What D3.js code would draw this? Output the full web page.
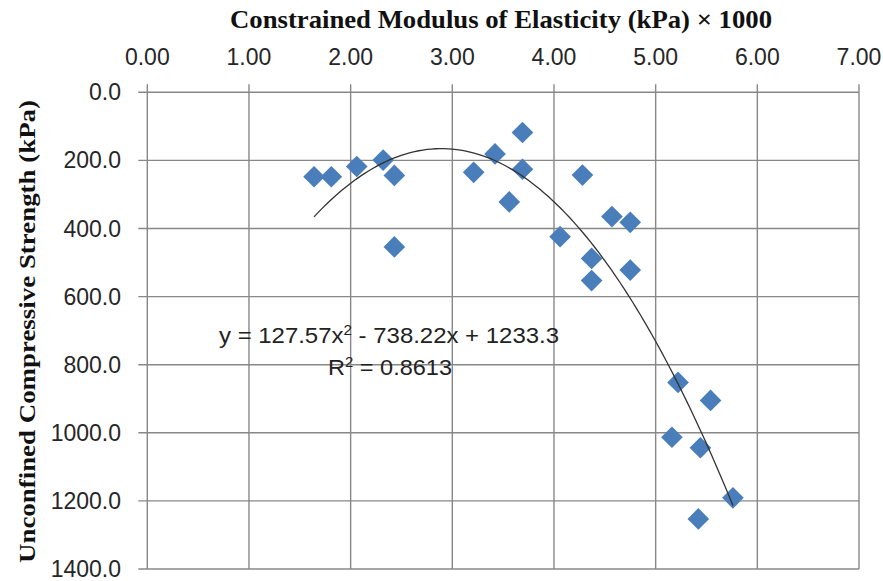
<!DOCTYPE html>
<html>
<head>
<meta charset="utf-8">
<script src="https://cdn.jsdelivr.net/npm/d3@7"></script>
<style>
html,body{margin:0;padding:0;background:#fff;}
svg{display:block;}
</style>
</head>
<body>
<svg id="chart" width="883" height="581"></svg>
<script>
// Data
const modulusX = [1.64, 1.81, 2.06, 2.32, 2.43, 2.43, 3.21, 3.42, 3.56, 3.69, 3.69, 4.28, 4.57, 4.75, 4.06, 4.37, 4.75, 4.37, 5.22, 5.54, 5.16, 5.44, 5.76, 5.42];
const strengthY = [248, 248, 218, 199, 244, 454, 235, 181, 322, 118, 226, 243, 365, 382, 424, 488, 522, 553, 852, 905, 1013, 1044, 1191, 1253];
const xTicks = [0, 1, 2, 3, 4, 5, 6, 7];
const yTicks = [0, 200, 400, 600, 800, 1000, 1200, 1400];
const trendCoef = [127.57, -738.22, 1233.3]; // a, b, c
const xTitle = "Constrained Modulus of Elasticity (kPa) \u00d7 1000";
const yTitle = "Unconfined Compressive  Strength (kPa)";

const svg = d3.select("#chart");
const L = 147.3, R = 859, T = 92.3, B = 569;
const x = d3.scaleLinear().domain([0, 7]).range([L, R]);
const y = d3.scaleLinear().domain([0, 1400]).range([T, B]);
const gridColor = "#888888";

// gridlines
const g = svg.append("g");
g.selectAll("line.vg").data(xTicks).join("line")
  .attr("x1", d => x(d)).attr("x2", d => x(d))
  .attr("y1", T - 8).attr("y2", B)
  .attr("stroke", gridColor).attr("stroke-width", 1.4);
g.selectAll("line.hg").data(yTicks).join("line")
  .attr("x1", L - 9).attr("x2", R)
  .attr("y1", d => y(d)).attr("y2", d => y(d))
  .attr("stroke", gridColor).attr("stroke-width", 1.4);

// tick labels
const tickFont = "'Liberation Sans', Arial, sans-serif";
svg.append("g").selectAll("text").data(xTicks).join("text")
  .attr("x", d => x(d)).attr("y", 65)
  .attr("text-anchor", "middle")
  .attr("font-family", tickFont).attr("font-size", 23).attr("fill", "#262626")
  .text(d => d3.format(".2f")(d));
svg.append("g").selectAll("text").data(yTicks).join("text")
  .attr("x", 121).attr("y", d => y(d) + 8)
  .attr("text-anchor", "end")
  .attr("font-family", tickFont).attr("font-size", 23).attr("fill", "#262626")
  .text(d => d3.format(".1f")(d));

// titles
svg.append("text")
  .attr("x", 501).attr("y", 28)
  .attr("text-anchor", "middle")
  .attr("font-family", "'Liberation Serif', 'Times New Roman', serif")
  .attr("font-weight", "bold").attr("font-size", 25)
  .attr("textLength", 542).attr("lengthAdjust", "spacingAndGlyphs")
  .attr("fill", "#111")
  .text(xTitle);
svg.append("text")
  .attr("transform", "translate(35,331.5) rotate(-90)")
  .attr("text-anchor", "middle")
  .attr("font-family", "'Liberation Serif', 'Times New Roman', serif")
  .attr("font-weight", "bold").attr("font-size", 24)
  .attr("textLength", 463).attr("lengthAdjust", "spacingAndGlyphs")
  .attr("fill", "#111")
  .text(yTitle);

// points
const pts = modulusX.map((v, i) => ({x: v, y: strengthY[i]}));
const diamond = d3.symbol().type(d3.symbolSquare).size(235);
svg.append("g").selectAll("path").data(pts).join("path")
  .attr("d", diamond)
  .attr("transform", d => `translate(${x(d.x)},${y(d.y)}) rotate(45)`)
  .attr("fill", "#4a7ebb");

// trendline (polynomial order 2, as given by the equation)
const [a, b, c] = trendCoef;
const xmin = d3.min(modulusX), xmax = d3.max(modulusX);
const tx = d3.range(0, 101).map(i => xmin + (xmax - xmin) * i / 100);
svg.append("path")
  .datum(tx)
  .attr("d", d3.line().x(d => x(d)).y(d => y(a * d * d + b * d + c)))
  .attr("fill", "none").attr("stroke", "#333").attr("stroke-width", 1.3);

// equation labels
const eq = svg.append("text")
  .attr("x", 389).attr("y", 343)
  .attr("text-anchor", "middle")
  .attr("font-family", tickFont).attr("font-size", 22).attr("fill", "#222")
  .attr("textLength", 340).attr("lengthAdjust", "spacingAndGlyphs");
eq.append("tspan").text("y = 127.57x");
eq.append("tspan").attr("font-size", 14).attr("dy", -8).text("2");
eq.append("tspan").attr("dy", 8).text(" - 738.22x + 1233.3");
const r2 = svg.append("text")
  .attr("x", 390).attr("y", 375)
  .attr("text-anchor", "middle")
  .attr("font-family", tickFont).attr("font-size", 22).attr("fill", "#222")
  .attr("textLength", 124).attr("lengthAdjust", "spacingAndGlyphs");
r2.append("tspan").text("R");
r2.append("tspan").attr("font-size", 14).attr("dy", -8).text("2");
r2.append("tspan").attr("dy", 8).text(" = 0.8613");
</script>
</body>
</html>
